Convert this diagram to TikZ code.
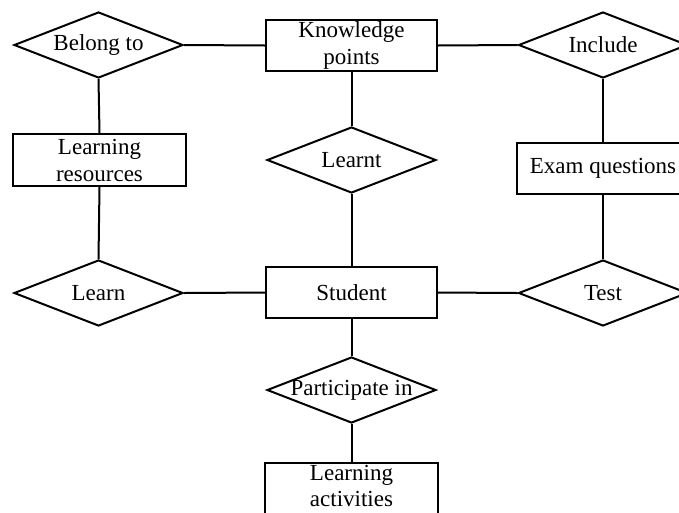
\documentclass[tikz,border=0pt]{standalone}
\usepackage{fontspec}
\setmainfont{Liberation Serif}
\usetikzlibrary{shapes.geometric}
\begin{document}
\begin{tikzpicture}[x=1pt,y=-1pt,line width=2pt,
  entity/.style={draw,rectangle,minimum width=171pt,minimum height=51pt,inner sep=0pt,align=center,
    font=\fontsize{23}{27}\selectfont},
  rel/.style={draw,diamond,minimum width=169pt,minimum height=66pt,inner sep=0pt,
    label={[font=\fontsize{23}{27}\selectfont]center:#1}}]
\useasboundingbox (0,0) rectangle (679,512);
\node[entity] (kp) at (351.5,45.5) {Knowledge\\points};
\node[entity,minimum width=173pt,minimum height=52pt] (lr) at (99.5,160) {Learning\\resources};
\node[entity,minimum width=172pt] (eq) at (603,168.5) {Exam questions};
\node[entity] (st) at (351.5,292.5) {Student};
\node[entity,minimum width=173pt,minimum height=52pt,
  label={[font=\fontsize{23}{26}\selectfont,align=center,yshift=3pt]center:{Learning\\activities}}] (la) at (351.5,489) {};
\node[rel=Belong to] (bt) at (98.5,45) {};
\node[rel=Include] (inc) at (603,45) {};
\node[rel=Learnt] (lt) at (351.5,160) {};
\node[rel=Learn] (ln) at (98.5,293) {};
\node[rel=Test] (ts) at (603,293) {};
\node[rel=Participate in] (pi) at (351.5,390) {};
\draw (bt.east) -- (kp.west);
\draw (kp.east) -- (inc.west);
\draw (bt.south) -- (lr.north);
\draw (lr.south) -- (ln.north);
\draw (ln.east) -- (st.west);
\draw (kp.south) -- (lt.north);
\draw (lt.south) -- (st.north);
\draw (inc.south) -- (eq.north);
\draw (eq.south) -- (ts.north);
\draw (ts.west) -- (st.east);
\draw (st.south) -- (pi.north);
\draw (pi.south) -- (la.north);
\end{tikzpicture}
\end{document}
